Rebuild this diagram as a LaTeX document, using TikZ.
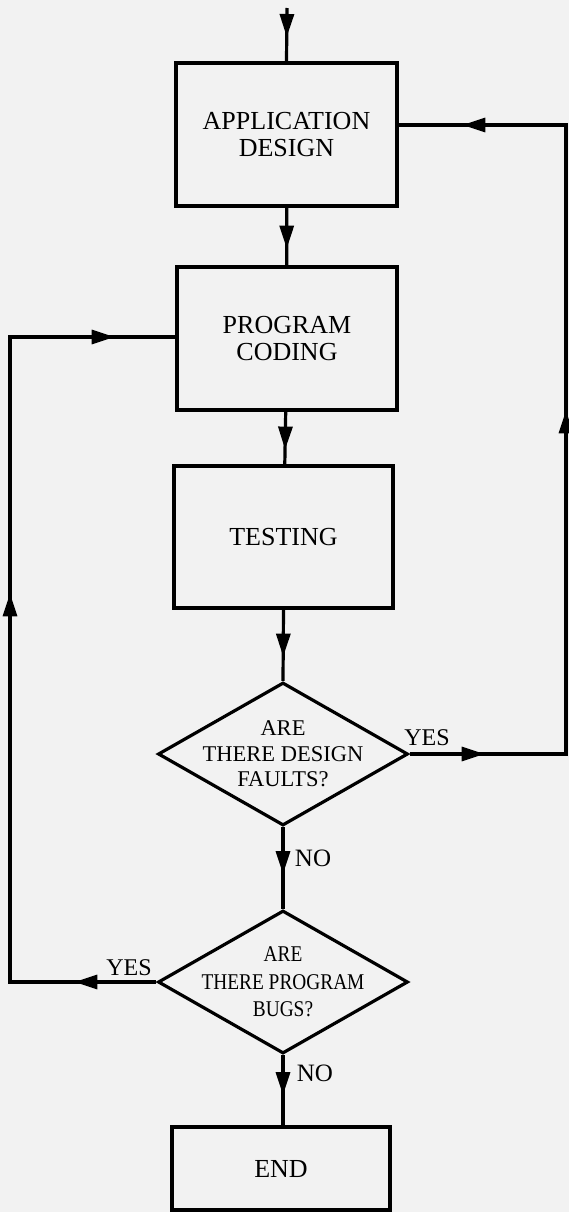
\documentclass[tikz,border=0pt]{standalone}
\usepackage{fontspec}
\setmainfont{Liberation Serif}
\newfontfamily\condfont{Liberation Serif}[FakeStretch=0.86]
\usetikzlibrary{shapes.geometric,arrows.meta,decorations.markings}
\definecolor{bg}{RGB}{242,242,242}
\tikzset{
  >={Triangle[length=23pt,width=14pt]},
  conn/.style={line width=3.2pt,line join=miter},
  boxnode/.style={draw,line width=3.2pt,rectangle,inner sep=0pt,align=center,
    font=\fontsize{26}{27}\selectfont},
  decnode/.style={draw,line width=3.2pt,diamond,inner sep=0pt,
    minimum width=250pt,minimum height=143pt},
  dectext/.style={align=center,inner sep=0pt},
  lbl/.style={inner sep=0pt,font=\fontsize{24}{24}\selectfont},
}
\begin{document}
\begin{tikzpicture}[x=1pt,y=-1pt]
\fill[bg] (0,0) rectangle (569,1212);
\useasboundingbox (0,0) rectangle (569,1212);

\node[boxnode,minimum width=221pt,minimum height=143pt] (app) at (286.5,134.5) {APPLICATION\\DESIGN};
\node[boxnode,minimum width=220pt,minimum height=143pt] (prog) at (287,338.5) {PROGRAM\\CODING};
\node[boxnode,minimum width=219pt,minimum height=142pt] (test) at (283.5,537) {TESTING};
\node[decnode,label={[dectext,font=\fontsize{22.5}{25.5}\selectfont]center:{ARE\\THERE DESIGN\\FAULTS?}}] (d1) at (283,754) {};
\node[decnode,label={[dectext,font=\condfont\fontsize{22.5}{27.5}\selectfont]center:{ARE\\THERE PROGRAM\\BUGS?}}] (d2) at (283,982) {};
\node[boxnode,minimum width=218pt,minimum height=83pt] (end) at (281,1168.5) {END};

\node[lbl] (yes1) at (427,738) {YES};
\node[lbl,font=\fontsize{25}{25}\selectfont] (no1) at (313,858) {NO};
\node[lbl] (yes2) at (129,968) {YES};
\node[lbl,font=\fontsize{25}{25}\selectfont] (no2) at (315,1073) {NO};

\coordinate (in) at (287,8);
\coordinate (rt) at (566,125);
\coordinate (lt) at (10,337);

\draw[conn,postaction={decorate},decoration={markings,mark=at position 29pt with {\arrow{>}}}] (in) -- (app.north);
\draw[conn,postaction={decorate},decoration={markings,mark=at position 41pt with {\arrow{>}}}] (app) -- (prog);
\draw[conn,postaction={decorate},decoration={markings,mark=at position 38pt with {\arrow{>}}}] (prog) -- (test);
\draw[conn,postaction={decorate},decoration={markings,mark=at position 47pt with {\arrow{>}}}] (test.south) -- (d1.north);
\draw[conn,postaction={decorate},decoration={markings,mark=at position 47pt with {\arrow{>}}}] (d1.south) -- (d2.north);
\draw[conn,postaction={decorate},decoration={markings,mark=at position 40pt with {\arrow{>}}}] (d2.south) -- (end.north -| d2.south);

\draw[conn,postaction={decorate},decoration={markings,
  mark=at position 75pt with {\arrow{>}},
  mark=at position 500pt with {\arrow{>}},
  mark=at position 889pt with {\arrow{>}}}]
  (d1.east) -- (d1.east -| rt) -- (rt) -- (rt -| app.east);

\draw[conn,postaction={decorate},decoration={markings,
  mark=at position 82pt with {\arrow{>}},
  mark=at position 535pt with {\arrow{>}},
  mark=at position 896pt with {\arrow{>}}}]
  (d2.west) -- (d2.west -| lt) -- (lt) -- (lt -| prog.west);
\end{tikzpicture}
\end{document}
